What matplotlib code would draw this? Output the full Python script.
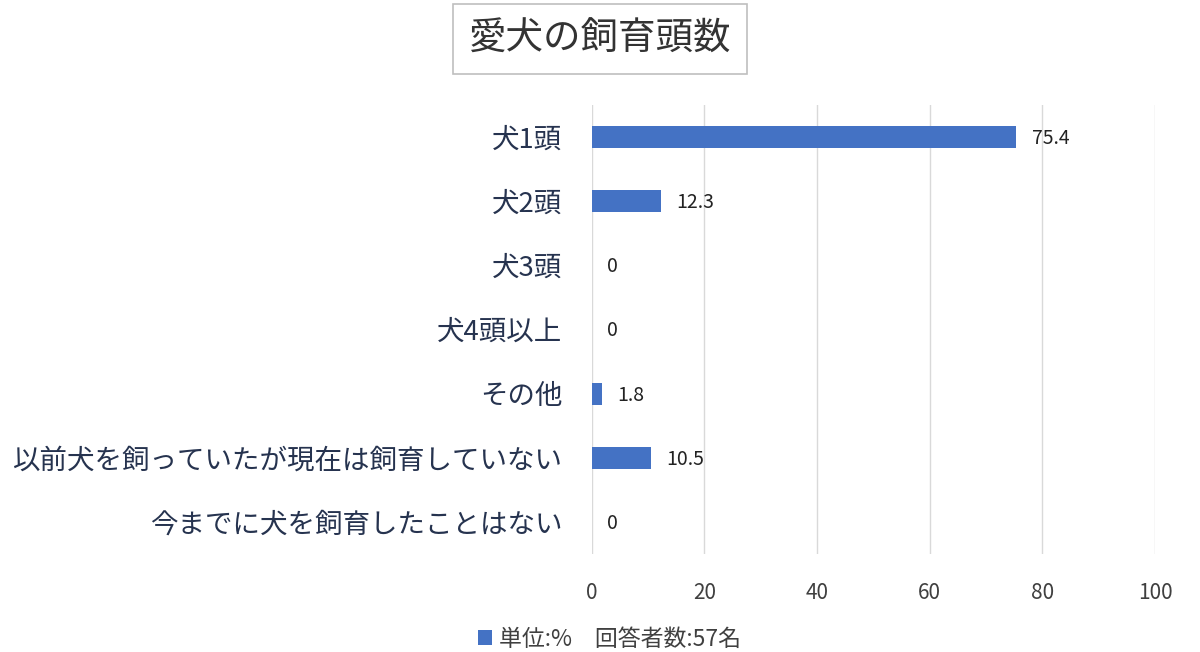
import matplotlib
matplotlib.use("Agg")
import matplotlib.pyplot as plt

plt.rcParams['font.family'] = ['Noto Sans CJK JP', 'DejaVu Sans']

# data
categories = ['犬1頭', '犬2頭', '犬3頭', '犬4頭以上', 'その他',
              '以前犬を飼っていたが現在は飼育していない',
              '今までに犬を飼育したことはない']
values = [75.4, 12.3, 0, 0, 1.8, 10.5, 0]
value_labels = ['75.4', '12.3', '0', '0', '1.8', '10.5', '0']
x_ticks = [0, 20, 40, 60, 80, 100]
title = '愛犬の飼育頭数'
legend_label = '単位:%　回答者数:57名'

bar_color = '#4472C4'
text_color = '#404040'
label_color = '#26334f'

fig = plt.figure(figsize=(12, 6.52), dpi=100)
ax = fig.add_axes([0.493, 0.150, 0.4695, 0.689])

y_pos = list(range(len(categories)))
bars = ax.barh(y_pos, values, height=0.35, color=bar_color, label=legend_label, zorder=3)

for y, v, lab in zip(y_pos, values, value_labels):
    ax.annotate(lab, xy=(v, y), xytext=(11, -1), textcoords='offset points',
                va='center', ha='left', fontsize=14, color='#222222')

ax.set_xlim(0, 100)
ax.set_ylim(len(categories) - 0.5, -0.5)
ax.set_yticks(y_pos)
ax.set_yticklabels(categories, fontsize=19.8, color=label_color)
ax.set_xticks(x_ticks)
ax.set_xticklabels([str(t) for t in x_ticks], fontsize=15, color=text_color)
ax.tick_params(axis='y', length=0, pad=21)
ax.tick_params(axis='x', length=0, pad=20)
ax.grid(axis='x', color='#d9d9d9', linewidth=1, zorder=0)
for s in ax.spines.values():
    s.set_visible(False)

fig.text(0.5, 0.94, title, ha='center', va='center', fontsize=27, color='#333333',
         bbox=dict(boxstyle='square,pad=0.42', facecolor='white', edgecolor='#bfbfbf', linewidth=1.2))

fig.legend(handles=[bars], labels=[legend_label], loc='center',
           bbox_to_anchor=(0.508, 0.02), frameon=False, fontsize=16.5,
           handlelength=0.6, handleheight=0.6, handletextpad=0.3, labelcolor=text_color)

fig.savefig('out.png', dpi=100, facecolor='white')
